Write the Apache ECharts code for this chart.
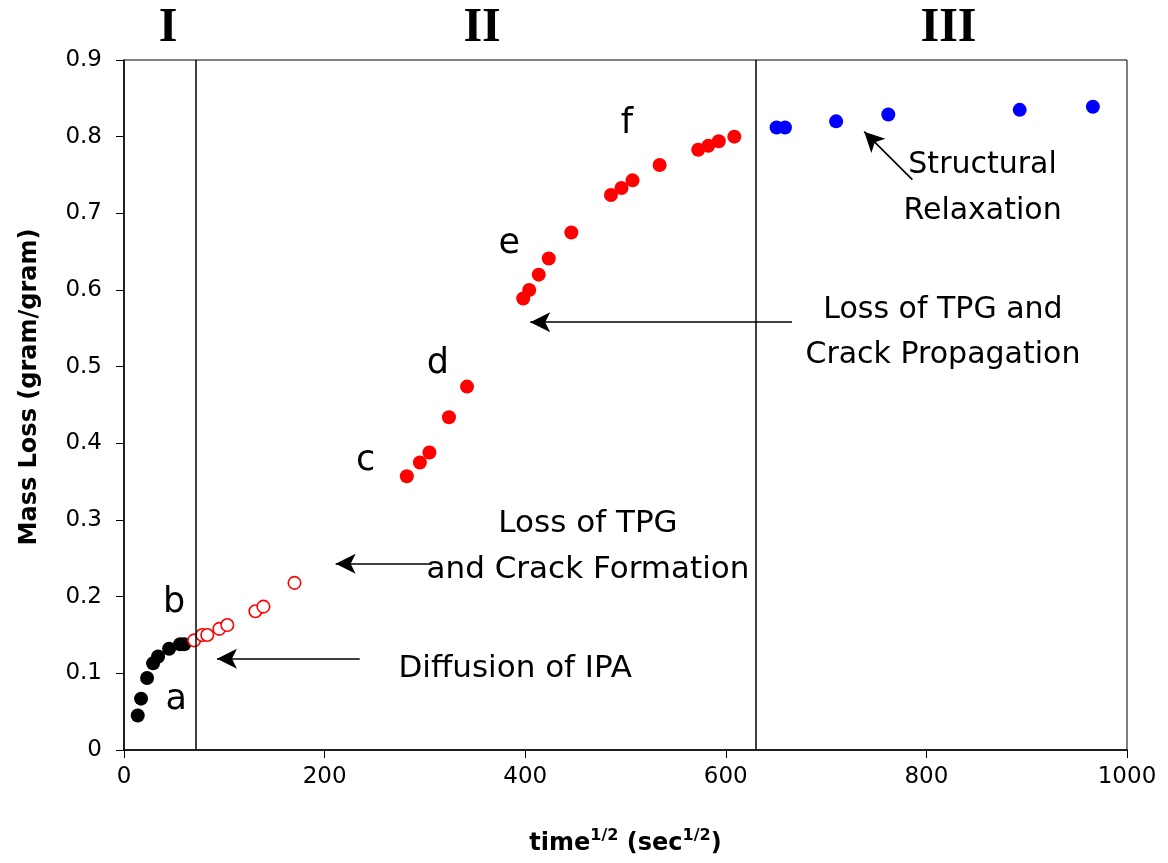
<!DOCTYPE html>
<html>
<head>
<meta charset="utf-8">
<script src="https://cdn.jsdelivr.net/npm/echarts@6/dist/echarts.min.js"></script>
<style>
  html, body { margin: 0; padding: 0; background: #fff; }
  #chart { width: 1168px; height: 863px; }
</style>
</head>
<body>
<div id="chart"></div>
<script>
// Stage a: initial IPA uptake (filled black)
const stageA = [
  [13.7, 0.045], [17, 0.067], [23, 0.094], [29, 0.113], [34, 0.122],
  [45, 0.132], [56, 0.138], [60, 0.138]
];
// Early stage II: crack formation (open red)
const crackFormation = [
  [70, 0.143], [78, 0.150], [83, 0.150], [95, 0.158], [103, 0.163],
  [131, 0.181], [139, 0.187], [170, 0.218]
];
// Stage II: crack propagation (filled red)
const crackPropagation = [
  [282, 0.357], [295, 0.375], [304.5, 0.388], [324, 0.434], [342, 0.474],
  [398, 0.589], [404, 0.600], [413.5, 0.620], [423.5, 0.641], [446, 0.675],
  [485.5, 0.724], [496, 0.733], [507, 0.743], [534, 0.763], [572.5, 0.783],
  [582.5, 0.788], [593, 0.794], [608.5, 0.800]
];
// Stage III: structural relaxation (filled blue)
const relaxation = [
  [650.6, 0.812], [659, 0.812], [710, 0.820], [762, 0.829], [893, 0.835], [966, 0.839]
];
// Stage boundaries on the time axis
const stageBoundaries = [72, 630];
// Axis ticks
const xTicks = [0, 200, 400, 600, 800, 1000];
const yTicks = [0, 0.1, 0.2, 0.3, 0.4, 0.5, 0.6, 0.7, 0.8, 0.9];

const FONT = '"DejaVu Sans", sans-serif';
const SERIF = '"Liberation Serif", "DejaVu Serif", serif';

const chart = echarts.init(document.getElementById('chart'));

// Annotation arrows, given as [tail, head] in data coordinates
const arrows = [
  [[235, 0.119], [92.7, 0.119]],
  [[307, 0.243], [211, 0.243]],
  [[666, 0.558], [405, 0.558]],
  [[786, 0.744], [738, 0.8065]]
];

// Text centred on data coordinates: [x, y, text, size]
const notes = [
  [52, 0.065, 'a', 35],
  [50, 0.192, 'b', 35],
  [241, 0.377, 'c', 35],
  [313, 0.503, 'd', 35],
  [384, 0.660, 'e', 35],
  [501.5, 0.816, 'f', 35],
  [390, 0.106, 'Diffusion of IPA', 31],
  [462.6, 0.295, 'Loss of TPG', 31],
  [462.6, 0.235, 'and Crack Formation', 31],
  [816.5, 0.574, 'Loss of TPG and', 30],
  [816.5, 0.515, 'Crack Propagation', 30],
  [856, 0.763, 'Structural', 30],
  [856, 0.703, 'Relaxation', 30]
];

// Stage numerals above the plot: [x, text]
const stageNames = [[44, 'I'], [357, 'II'], [822, 'III']];

const option = {
  animation: false,
  backgroundColor: '#fff',
  grid: {
    left: 124, right: 41, top: 60, bottom: 113,
    show: true, borderColor: '#000', borderWidth: 1, backgroundColor: '#fff'
  },
  xAxis: {
    type: 'value', min: 0, max: 1000, interval: 200,
    axisLine: { lineStyle: { color: '#000', width: 1.5 } },
    axisTick: { inside: false, length: 8, lineStyle: { color: '#000' } },
    splitLine: { show: false },
    axisLabel: {
      color: '#000', fontSize: 23, fontFamily: FONT, margin: 16,
      formatter: v => String(v)
    },
    name: '{b|time}{s|1/2}{b| (sec}{s|1/2}{b|)}',
    nameLocation: 'middle', nameGap: 78,
    nameTextStyle: {
      rich: {
        b: { fontSize: 24, fontWeight: 'bold', fontFamily: FONT, color: '#000', verticalAlign: 'bottom' },
        s: { fontSize: 16, fontWeight: 'bold', fontFamily: FONT, color: '#000', verticalAlign: 'top', padding: [0, 0, 12, 0] }
      }
    }
  },
  yAxis: {
    type: 'value', min: 0, max: 0.9, interval: 0.1,
    axisLine: { show: true, lineStyle: { color: '#000', width: 1.5 } },
    axisTick: { show: true, inside: false, length: 8, lineStyle: { color: '#000' } },
    splitLine: { show: false },
    axisLabel: {
      color: '#000', fontSize: 23, fontFamily: FONT, margin: 22,
      formatter: v => (Math.round(v * 10) / 10).toString()
    },
    name: 'Mass Loss (gram/gram)',
    nameLocation: 'middle', nameGap: 82,
    nameTextStyle: {
      fontSize: 24, fontWeight: 'bold', fontFamily: FONT, color: '#000',
      padding: [0, 0, 0, 36]
    }
  },
  series: [
    {
      name: 'a-b', type: 'scatter', data: stageA, symbol: 'circle', symbolSize: 14,
      itemStyle: { color: '#000', opacity: 1 }, z: 3,
      markLine: {
        silent: true, symbol: ['none', 'none'], label: { show: false },
        lineStyle: { color: '#000', width: 1.5, type: 'solid' },
        data: stageBoundaries.map(v => ({ xAxis: v }))
      }
    },
    {
      name: 'crack formation', type: 'scatter', data: crackFormation, symbol: 'circle', symbolSize: 12.5,
      itemStyle: { color: '#fff', borderColor: '#ff0000', borderWidth: 1.6, opacity: 1 }, z: 3
    },
    {
      name: 'crack propagation', type: 'scatter', data: crackPropagation, symbol: 'circle', symbolSize: 14,
      itemStyle: { color: '#ff0000', opacity: 1 }, z: 3
    },
    {
      name: 'relaxation', type: 'scatter', data: relaxation, symbol: 'circle', symbolSize: 14,
      itemStyle: { color: '#0000ff', opacity: 1 }, z: 3,
      markLine: {
        silent: true, label: { show: false },
        lineStyle: { color: '#000', width: 1.6, type: 'solid', opacity: 1 },
        data: arrows.map(a => [
          { coord: a[0], symbol: 'none' },
          { coord: a[1], symbol: 'arrow', symbolSize: [15, 20] }
        ])
      }
    },
    {
      name: 'notes', type: 'scatter', symbolSize: 1, silent: true,
      itemStyle: { color: 'rgba(0,0,0,0)', opacity: 1 },
      data: notes.map(n => ({
        value: [n[0], n[1]],
        label: {
          show: true, formatter: n[2], position: 'inside', align: 'center', verticalAlign: 'middle',
          fontSize: n[3], fontFamily: FONT, color: '#000', opacity: 1
        }
      }))
    },
    {
      name: 'stages', type: 'scatter', symbolSize: 1, silent: true,
      itemStyle: { color: 'rgba(0,0,0,0)', opacity: 1 },
      data: stageNames.map(s => ({
        value: [s[0], 0.9],
        label: {
          show: true, formatter: s[1], position: 'inside', align: 'center', verticalAlign: 'middle',
          offset: [0, -31], fontSize: 48, fontWeight: 'bold', fontFamily: SERIF, color: '#000', opacity: 1
        }
      }))
    }
  ]
};

chart.setOption(option);
</script>
</body>
</html>
